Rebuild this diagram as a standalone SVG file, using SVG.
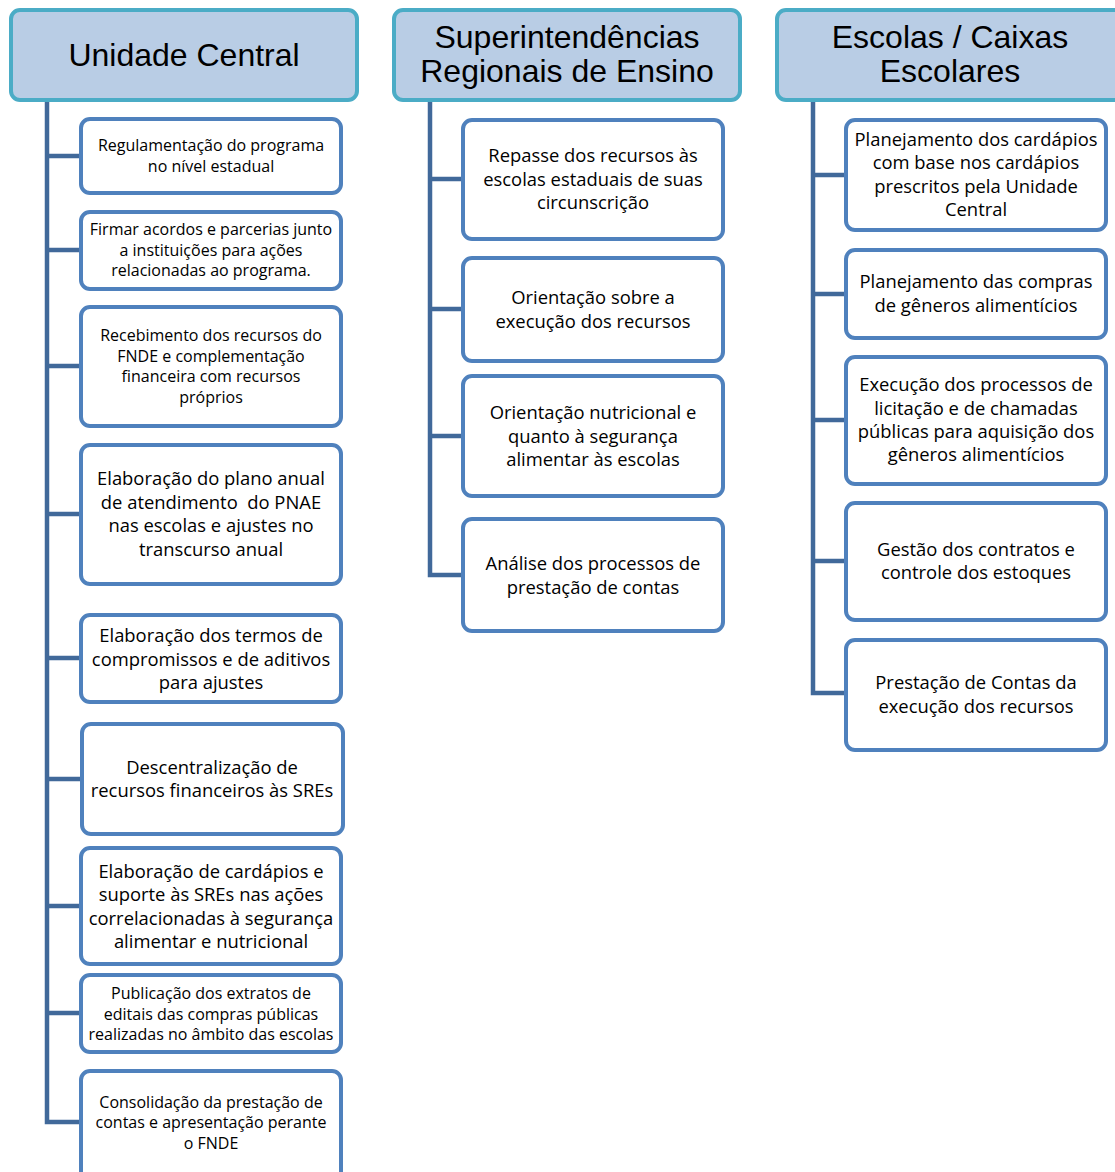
<svg xmlns="http://www.w3.org/2000/svg" width="1115" height="1172" viewBox="0 0 1115 1172">
<style>
.hdr{fill:#B9CDE5;stroke:#4BACC6;stroke-width:4}
.box{fill:#FFFFFF;stroke:#4F81BD;stroke-width:4}
.conn{fill:none;stroke:#41699A;stroke-width:4.5;stroke-linejoin:miter}
.ht{font-family:"Liberation Sans",Arial,sans-serif;font-size:32px;fill:#000;text-anchor:middle}
.t{font-family:"Open Sans","Noto Sans",sans-serif;fill:#000;text-anchor:middle}
.s{font-size:16px}
.m{font-size:18.4px}
</style>
<rect width="1115" height="1172" fill="#FFFFFF"/>
<g id="connectors">
<path class="conn" d="M47 100 V1122 H81 M47 156 H81 M47 250 H81 M47 366 H81 M47 514 H81 M47 658 H81 M47 779 H81 M47 906 H81 M47 1013 H81"/>
<path class="conn" d="M430 100 V575 H463 M430 179 H463 M430 309 H463 M430 436 H463"/>
<path class="conn" d="M813 100 V693 H846 M813 175 H846 M813 294 H846 M813 420 H846 M813 561 H846"/>
</g>
<g id="h1"><rect class="hdr" x="11" y="10" width="346" height="90" rx="9"/><text class="ht" x="184" y="66">Unidade Central</text></g>
<g id="h2"><rect class="hdr" x="394" y="10" width="346" height="90" rx="9"/><text class="ht" x="567" y="48">Superintendências</text><text class="ht" x="567" y="82">Regionais de Ensino</text></g>
<g id="h3"><rect class="hdr" x="777" y="10" width="350" height="90" rx="9"/><text class="ht" x="950" y="48">Escolas / Caixas</text><text class="ht" x="950" y="82">Escolares</text></g>

<g id="c1b1"><rect class="box" x="81" y="119" width="260" height="74" rx="9"/><text class="t s" x="211" y="150.5">Regulamentação do programa</text><text class="t s" x="211" y="171.5">no nível estadual</text></g>
<g id="c1b2"><rect class="box" x="81" y="212" width="260" height="77" rx="9"/><text class="t s" x="211" y="234.5">Firmar acordos e parcerias junto</text><text class="t s" x="211" y="255.5">a instituições para ações</text><text class="t s" x="211" y="275.5">relacionadas ao programa.</text></g>
<g id="c1b3"><rect class="box" x="81" y="307" width="260" height="119" rx="9"/><text class="t s" x="211" y="340.5">Recebimento dos recursos do</text><text class="t s" x="211" y="361.5">FNDE e complementação</text><text class="t s" x="211" y="381.5">financeira com recursos</text><text class="t s" x="211" y="402.5">próprios</text></g>
<g id="c1b4"><rect class="box" x="81" y="445" width="260" height="139" rx="9"/><text class="t m" x="211" y="484.5">Elaboração do plano anual</text><text class="t m" x="211" y="508.5">de atendimento&#160; do PNAE</text><text class="t m" x="211" y="531.5">nas escolas e ajustes no</text><text class="t m" x="211" y="555.5">transcurso anual</text></g>
<g id="c1b5"><rect class="box" x="81" y="615" width="260" height="87" rx="9"/><text class="t m" x="211" y="641.5">Elaboração dos termos de</text><text class="t m" x="211" y="665.5">compromissos e de aditivos</text><text class="t m" x="211" y="688.5">para ajustes</text></g>
<g id="c1b6"><rect class="box" x="82" y="724" width="261" height="110" rx="9"/><text class="t m" x="212" y="773.5">Descentralização de</text><text class="t m" x="212" y="796.5">recursos financeiros às SREs</text></g>
<g id="c1b7"><rect class="box" x="81" y="848" width="260" height="116" rx="9"/><text class="t m" x="211" y="877.5">Elaboração de cardápios e</text><text class="t m" x="211" y="900.5">suporte às SREs nas ações</text><text class="t m" x="211" y="924.5">correlacionadas à segurança</text><text class="t m" x="211" y="947.5">alimentar e nutricional</text></g>
<g id="c1b8"><rect class="box" x="81" y="975" width="260" height="77" rx="9"/><text class="t s" x="211" y="998.5">Publicação dos extratos de</text><text class="t s" x="211" y="1019.5">editais das compras públicas</text><text class="t s" x="211" y="1039.5">realizadas no âmbito das escolas</text></g>
<g id="c1b9"><rect class="box" x="81" y="1071" width="260" height="110" rx="9"/><text class="t s" x="211" y="1107.5">Consolidação da prestação de</text><text class="t s" x="211" y="1127.5">contas e apresentação perante</text><text class="t s" x="211" y="1148.5">o FNDE</text></g>

<g id="c2b1"><rect class="box" x="463" y="120" width="260" height="119" rx="9"/><text class="t m" x="593" y="161.5">Repasse dos recursos às</text><text class="t m" x="593" y="185.5">escolas estaduais de suas</text><text class="t m" x="593" y="208.5">circunscrição</text></g>
<g id="c2b2"><rect class="box" x="463" y="258" width="260" height="103" rx="9"/><text class="t m" x="593" y="303.5">Orientação sobre a</text><text class="t m" x="593" y="327.5">execução dos recursos</text></g>
<g id="c2b3"><rect class="box" x="463" y="376" width="260" height="120" rx="9"/><text class="t m" x="593" y="418.5">Orientação nutricional e</text><text class="t m" x="593" y="442.5">quanto à segurança</text><text class="t m" x="593" y="465.5">alimentar às escolas</text></g>
<g id="c2b4"><rect class="box" x="463" y="519" width="260" height="112" rx="9"/><text class="t m" x="593" y="569.5">Análise dos processos de</text><text class="t m" x="593" y="593.5">prestação de contas</text></g>

<g id="c3b1"><rect class="box" x="846" y="120" width="260" height="110" rx="9"/><text class="t m" x="976" y="145.5">Planejamento dos cardápios</text><text class="t m" x="976" y="168.5">com base nos cardápios</text><text class="t m" x="976" y="192.5">prescritos pela Unidade</text><text class="t m" x="976" y="215.5">Central</text></g>
<g id="c3b2"><rect class="box" x="846" y="250" width="260" height="88" rx="9"/><text class="t m" x="976" y="287.5">Planejamento das compras</text><text class="t m" x="976" y="311.5">de gêneros alimentícios</text></g>
<g id="c3b3"><rect class="box" x="846" y="357" width="260" height="127" rx="9"/><text class="t m" x="976" y="390.5">Execução dos processos de</text><text class="t m" x="976" y="414.5">licitação e de chamadas</text><text class="t m" x="976" y="437.5">públicas para aquisição dos</text><text class="t m" x="976" y="460.5">gêneros alimentícios</text></g>
<g id="c3b4"><rect class="box" x="846" y="503" width="260" height="117" rx="9"/><text class="t m" x="976" y="555.5">Gestão dos contratos e</text><text class="t m" x="976" y="578.5">controle dos estoques</text></g>
<g id="c3b5"><rect class="box" x="846" y="640" width="260" height="110" rx="9"/><text class="t m" x="976" y="688.5">Prestação de Contas da</text><text class="t m" x="976" y="712.5">execução dos recursos</text></g>
</svg>
